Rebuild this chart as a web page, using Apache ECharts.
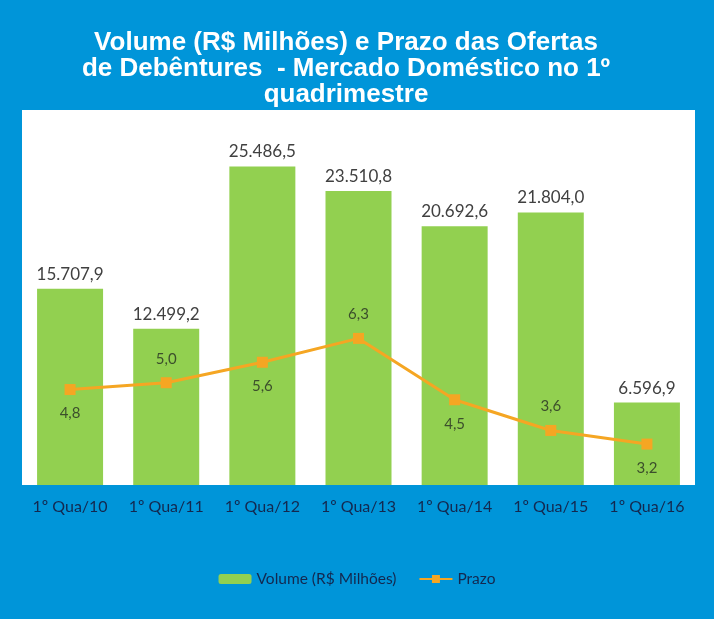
<!DOCTYPE html>
<html>
<head>
<meta charset="utf-8">
<script src="https://cdn.jsdelivr.net/npm/echarts@6/dist/echarts.min.js"></script>
<style>
  html, body { margin: 0; padding: 0; background: #0095d9; }
  #chart { width: 714px; height: 619px; }
</style>
</head>
<body>
<div id="chart"></div>
<script>
const categories = ['1º Qua/10', '1º Qua/11', '1º Qua/12', '1º Qua/13', '1º Qua/14', '1º Qua/15', '1º Qua/16']
const volume = [15707.9, 12499.2, 25486.5, 23510.8, 20692.6, 21804.0, 6596.9]
const prazo = [4.8, 5.0, 5.6, 6.3, 4.5, 3.6, 3.2]

// formato brasileiro: 15.707,9
function fmtBR (v) {
  const parts = v.toFixed(1).split('.')
  const int = parts[0].replace(/\B(?=(\d{3})+(?!\d))/g, '.')
  return int + ',' + parts[1]
}

const chartDom = document.getElementById('chart')
const myChart = echarts.init(chartDom)
const font = 'Lato'

const option = {
  backgroundColor: '#0095d9',
  animation: false,
  title: {
    text: 'Volume (R$ Milhões) e Prazo das Ofertas\nde Debêntures  - Mercado Doméstico no 1º\nquadrimestre',
    left: 341,
    textAlign: 'center',
    top: 25,
    textStyle: {
      color: '#ffffff',
      fontFamily: 'Liberation Sans',
      fontWeight: 'bold',
      fontSize: 26,
      lineHeight: 26
    }
  },
  legend: {
    bottom: 27,
    left: 'center',
    itemWidth: 33,
    itemHeight: 10,
    itemGap: 22,
    textStyle: { color: '#13284f', fontFamily: font, fontSize: 15.5 },
    data: ['Volume (R$ Milhões)', 'Prazo']
  },
  grid: {
    left: 22,
    right: 19,
    top: 110,
    bottom: 134,
    show: true,
    backgroundColor: '#ffffff',
    borderWidth: 0
  },
  xAxis: {
    type: 'category',
    data: categories,
    axisLine: { show: false },
    axisTick: { show: false },
    axisLabel: { interval: 0, color: '#13284f', fontFamily: font, fontSize: 16, margin: 14 }
  },
  yAxis: [
    { type: 'value', min: 0, max: 30000, show: false, splitLine: { show: false } },
    { type: 'value', min: 2, max: 13, show: false, splitLine: { show: false } }
  ],
  series: [
    {
      name: 'Volume (R$ Milhões)',
      type: 'bar',
      data: volume,
      barWidth: 66,
      itemStyle: { color: '#92d050' },
      label: {
        show: true,
        position: 'top',
        distance: 6,
        color: '#404040',
        fontFamily: font,
        fontSize: 17,
        formatter: p => fmtBR(p.value)
      }
    },
    {
      name: 'Prazo',
      type: 'line',
      yAxisIndex: 1,
      data: prazo.map((v, i) => ({
        value: v,
        label: { position: i % 2 ? 'top' : 'bottom' }
      })),
      symbol: 'rect',
      symbolSize: 11,
      lineStyle: { color: '#f5a623', width: 3 },
      itemStyle: { color: '#f5a623' },
      label: {
        show: true,
        distance: 11,
        color: '#3c4f2c',
        fontFamily: font,
        fontSize: 15,
        formatter: p => p.value.toFixed(1).replace('.', ',')
      }
    }
  ]
}
option && myChart.setOption(option)
</script>
</body>
</html>
